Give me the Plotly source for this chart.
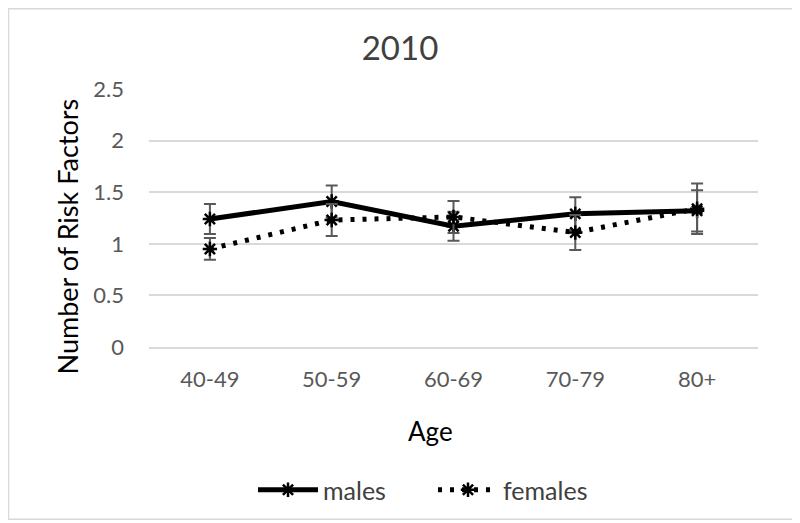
import plotly.graph_objects as go

ages = ["40-49", "50-59", "60-69", "70-79", "80+"]
males = [1.24, 1.41, 1.17, 1.29, 1.32]
males_err = [0.145, 0.155, 0.14, 0.16, 0.20]
females = [0.95, 1.23, 1.26, 1.11, 1.34]
females_err = [0.105, 0.155, 0.155, 0.17, 0.245]
y_ticks = [0, 0.5, 1, 1.5, 2, 2.5]
y_ticklabels = ["0", "0.5", "1", "1.5", "2", "2.5"]

FONT = "Lato"
# page is offset by the 8px body margin
W, H = 792, 515
L, R, T, B = 141, 42, 81, 175
pw, ph = W - L - R, H - T - B


def px(xf):
    return (xf - 8 - L) / pw


def py(yf):
    return (H - B - (yf - 8)) / ph


fig = go.Figure()
fig.add_trace(go.Scatter(
    x=ages, y=males, name="males", mode="lines+markers",
    line=dict(color="black", width=5),
    marker=dict(symbol="asterisk-open", size=12, color="black",
                line=dict(color="black", width=2.5)),
    error_y=dict(type="data", array=males_err, visible=True,
                 color="#595959", thickness=2, width=6),
))
fig.add_trace(go.Scatter(
    x=ages, y=females, name="females", mode="lines+markers",
    line=dict(color="black", width=5, dash="4px,8px"),
    marker=dict(symbol="asterisk-open", size=12, color="black",
                line=dict(color="black", width=2.5)),
    error_y=dict(type="data", array=females_err, visible=True,
                 color="#595959", thickness=2, width=6),
))

fig.add_shape(type="rect", xref="paper", yref="paper",
              x0=px(8.5), x1=px(798), y0=py(521), y1=py(8.5),
              line=dict(color="#d9d9d9", width=1.5), layer="below")

fig.add_annotation(text="Number of Risk Factors", textangle=-90,
                   xref="paper", yref="paper", x=px(67), y=py(237),
                   xanchor="center", yanchor="middle", showarrow=False,
                   font=dict(family=FONT, size=27, color="black"))
fig.add_annotation(text="Age",
                   xref="paper", yref="paper", x=px(430), y=py(432),
                   xanchor="center", yanchor="middle", showarrow=False,
                   font=dict(family=FONT, size=26, color="black"))

fig.update_layout(
    width=W, height=H,
    margin=dict(l=L, r=R, t=T, b=B),
    paper_bgcolor="white", plot_bgcolor="white",
    font=dict(family=FONT, color="#595959", size=20),
    title=dict(text="2010", x=392 / W, xanchor="center", y=1 - 40 / H, yanchor="middle",
               font=dict(family=FONT, size=33, color="#404040")),
    showlegend=True,
    legend=dict(orientation="h", x=px(433), xanchor="center",
                y=py(490), yanchor="middle",
                font=dict(family=FONT, size=25, color="#404040"),
                entrywidth=105, itemwidth=60, tracegroupgap=0),
    xaxis=dict(type="category", range=[-0.5, 4.5], showgrid=False,
               showline=True, linecolor="#d9d9d9", linewidth=1.5,
               ticks="", ticklabelstandoff=12,
               tickfont=dict(family=FONT, size=22, color="#595959")),
    yaxis=dict(range=[0, 2.5], tickvals=y_ticks, ticktext=y_ticklabels,
               showgrid=True, gridcolor="#d9d9d9", gridwidth=1.5,
               zeroline=False, showline=False, ticks="",
               ticklabelstandoff=24,
               tickfont=dict(family=FONT, size=22, color="#595959")),
)

fig.write_html("out.html")
